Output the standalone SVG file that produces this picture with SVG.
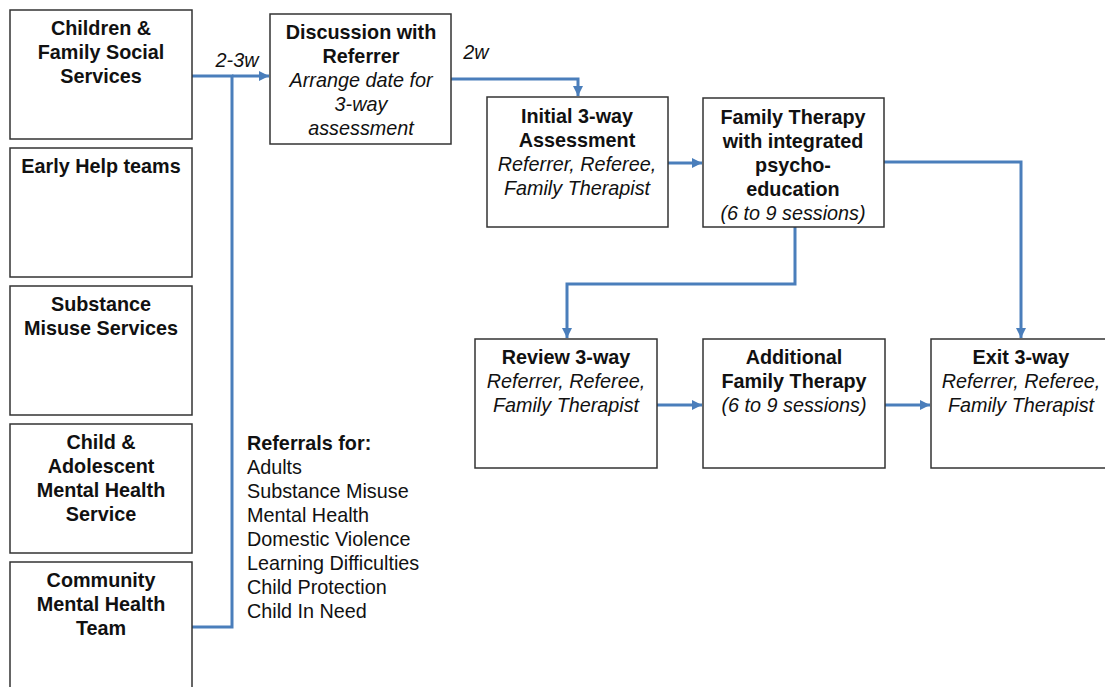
<svg xmlns="http://www.w3.org/2000/svg" width="1105" height="687" viewBox="0 0 1105 687">
<style>
.box{fill:#fff;stroke:#333;stroke-width:1.5}
text{font-family:"Liberation Sans",Arial,sans-serif;font-size:19.8px;fill:#111}
.b{font-weight:bold}
.i{font-style:italic}
.c{text-anchor:middle}
.con{fill:none;stroke:#4a7ebb;stroke-width:3}
</style>
<defs>
<marker id="ah" viewBox="0 0 10 10" refX="10" refY="5" markerWidth="10" markerHeight="10" markerUnits="userSpaceOnUse" orient="auto">
<path d="M0,0 L10,5 L0,10 z" fill="#4a7ebb"/>
</marker>
</defs>
<g id="connectors">
<polyline class="con" points="192,76 232,76 232,627 192,627"/>
<line class="con" x1="232" y1="76" x2="269" y2="76" marker-end="url(#ah)"/>
<polyline class="con" points="451,79 578,79 578,96" marker-end="url(#ah)"/>
<line class="con" x1="668" y1="163" x2="702" y2="163" marker-end="url(#ah)"/>
<polyline class="con" points="884,162 1021,162 1021,338" marker-end="url(#ah)"/>
<polyline class="con" points="795,227 795,284 567,284 567,338" marker-end="url(#ah)"/>
<line class="con" x1="657" y1="405" x2="702" y2="405" marker-end="url(#ah)"/>
<line class="con" x1="885" y1="405" x2="930" y2="405" marker-end="url(#ah)"/>
</g>
<g id="lbl-23w"><text class="i c" x="237" y="67">2-3w</text></g>
<g id="lbl-2w"><text class="i c" x="476" y="59">2w</text></g>
<g id="n-cfss">
<rect class="box" x="10" y="10" width="182" height="129"/>
<text class="b c" x="101" y="35">Children &amp;</text>
<text class="b c" x="101" y="59">Family Social</text>
<text class="b c" x="101" y="83">Services</text>
</g>
<g id="n-early">
<rect class="box" x="10" y="148" width="182" height="129"/>
<text class="b c" x="101" y="173">Early Help teams</text>
</g>
<g id="n-substance">
<rect class="box" x="10" y="286" width="182" height="129"/>
<text class="b c" x="101" y="311">Substance</text>
<text class="b c" x="101" y="335">Misuse Services</text>
</g>
<g id="n-camhs">
<rect class="box" x="10" y="424" width="182" height="129"/>
<text class="b c" x="101" y="449">Child &amp;</text>
<text class="b c" x="101" y="473">Adolescent</text>
<text class="b c" x="101" y="497">Mental Health</text>
<text class="b c" x="101" y="521">Service</text>
</g>
<g id="n-cmht">
<rect class="box" x="10" y="562" width="182" height="135"/>
<text class="b c" x="101" y="587">Community</text>
<text class="b c" x="101" y="611">Mental Health</text>
<text class="b c" x="101" y="635">Team</text>
</g>
<g id="n-discussion">
<rect class="box" x="270" y="14" width="181" height="130"/>
<text class="b c" x="361" y="39">Discussion with</text>
<text class="b c" x="361" y="63">Referrer</text>
<text class="i c" x="361" y="87">Arrange date for</text>
<text class="i c" x="361" y="111">3-way</text>
<text class="i c" x="361" y="135">assessment</text>
</g>
<g id="n-initial">
<rect class="box" x="487" y="97" width="181" height="130"/>
<text class="b c" x="577" y="123">Initial 3-way</text>
<text class="b c" x="577" y="147">Assessment</text>
<text class="i c" x="577" y="171">Referrer, Referee,</text>
<text class="i c" x="577" y="195">Family Therapist</text>
</g>
<g id="n-ft">
<rect class="box" x="703" y="98" width="181" height="129"/>
<text class="b c" x="793" y="124">Family Therapy</text>
<text class="b c" x="793" y="148">with integrated</text>
<text class="b c" x="793" y="172">psycho-</text>
<text class="b c" x="793" y="196">education</text>
<text class="i c" x="793" y="220">(6 to 9 sessions)</text>
</g>
<g id="n-review">
<rect class="box" x="475" y="339" width="182" height="129"/>
<text class="b c" x="566" y="364">Review 3-way</text>
<text class="i c" x="566" y="388">Referrer, Referee,</text>
<text class="i c" x="566" y="412">Family Therapist</text>
</g>
<g id="n-additional">
<rect class="box" x="703" y="339" width="182" height="129"/>
<text class="b c" x="794" y="364">Additional</text>
<text class="b c" x="794" y="388">Family Therapy</text>
<text class="i c" x="794" y="412">(6 to 9 sessions)</text>
</g>
<g id="n-exit">
<rect class="box" x="931" y="339" width="182" height="129"/>
<text class="b c" x="1021" y="364">Exit 3-way</text>
<text class="i c" x="1021" y="388">Referrer, Referee,</text>
<text class="i c" x="1021" y="412">Family Therapist</text>
</g>
<g id="referrals">
<text class="b" x="247" y="450">Referrals for:</text>
<text x="247" y="474">Adults</text>
<text x="247" y="498">Substance Misuse</text>
<text x="247" y="522">Mental Health</text>
<text x="247" y="546">Domestic Violence</text>
<text x="247" y="570">Learning Difficulties</text>
<text x="247" y="594">Child Protection</text>
<text x="247" y="618">Child In Need</text>
</g>
</svg>
